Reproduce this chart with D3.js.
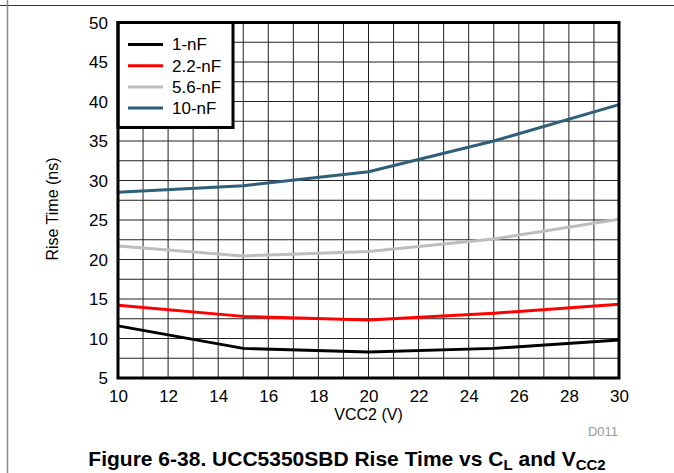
<!DOCTYPE html>
<html><head><meta charset="utf-8">
<script src="https://cdn.jsdelivr.net/npm/d3@7"></script>
<style>
html,body{margin:0;padding:0;background:#fff;}
svg{display:block;font-family:"Liberation Sans",Arial,sans-serif;}
</style></head>
<body>
<svg id="c" width="674" height="473"></svg>
<script>
const vcc2 = [10, 15, 20, 25, 30];
const seriesNames = ["1-nF", "2.2-nF", "5.6-nF", "10-nF"];
const seriesColors = ["#000000", "#ff0000", "#bdbdbd", "#2e5f7a"];
const rise1nF  = [11.6, 8.75, 8.3, 8.75, 9.8];
const rise2p2nF = [14.2, 12.8, 12.35, 13.2, 14.35];
const rise5p6nF = [21.7, 20.45, 21.0, 22.6, 25.1];
const rise10nF = [28.5, 29.35, 31.1, 35.0, 39.6];
const xTicks = [10, 12, 14, 16, 18, 20, 22, 24, 26, 28, 30];
const yTicks = [5, 10, 15, 20, 25, 30, 35, 40, 45, 50];

const seriesValues = [rise1nF, rise2p2nF, rise5p6nF, rise10nF];
const svg = d3.select("#c");
const L = 118, R = 619, T = 22.5, B = 378;
const x = d3.scaleLinear().domain([10, 30]).range([L, R]);
const y = d3.scaleLinear().domain([5, 50]).range([B, T]);

// page frame lines
svg.append("line").attr("x1", 0).attr("x2", 674).attr("y1", 5.5).attr("y2", 5.5).attr("stroke", "#333").attr("stroke-width", 1);
svg.append("line").attr("x1", 7.5).attr("x2", 7.5).attr("y1", 0).attr("y2", 473).attr("stroke", "#888").attr("stroke-width", 1.5);

// grid
const g = svg.append("g");
g.selectAll(".vg").data(d3.range(11, 30)).join("line")
  .attr("x1", d => x(d)).attr("x2", d => x(d)).attr("y1", T).attr("y2", B)
  .attr("stroke", "#222").attr("stroke-width", 1);
g.selectAll(".hg").data(d3.range(7.5, 50, 2.5)).join("line")
  .attr("x1", L).attr("x2", R).attr("y1", d => y(d)).attr("y2", d => y(d))
  .attr("stroke", "#222").attr("stroke-width", 1);

// data lines
const line = d3.line().x((d, i) => x(vcc2[i])).y(d => y(d));
seriesValues.forEach((vals, k) => {
  svg.append("path").datum(vals).attr("d", line)
    .attr("fill", "none").attr("stroke", seriesColors[k]).attr("stroke-width", 3)
    .attr("stroke-linejoin", "round");
});

// legend
const lg = svg.append("g");
lg.append("rect").attr("x", L).attr("y", T).attr("width", 115).attr("height", 105)
  .attr("fill", "#fff").attr("stroke", "#000").attr("stroke-width", 3);
seriesNames.forEach((n, k) => {
  const yy = 44.5 + k * 21.2;
  lg.append("line").attr("x1", 128).attr("x2", 163).attr("y1", yy).attr("y2", yy)
    .attr("stroke", seriesColors[k]).attr("stroke-width", 3);
  lg.append("text").attr("x", 172).attr("y", yy).attr("dy", "0.35em")
    .attr("font-size", 17).attr("fill", "#000").text(n);
});

// frame
svg.append("rect").attr("x", L).attr("y", T).attr("width", R - L).attr("height", B - T)
  .attr("fill", "none").attr("stroke", "#000").attr("stroke-width", 3);

// axes
const xAxis = d3.axisBottom(x).tickValues(xTicks).tickSize(0).tickPadding(0).tickFormat(d3.format("d"));
const xa = svg.append("g").attr("transform", `translate(0,${B})`).call(xAxis);
xa.select(".domain").remove();
xa.selectAll("text").attr("font-size", 17).attr("font-family", "Liberation Sans, Arial, sans-serif")
  .attr("fill", "#000").attr("y", 18).attr("dy", "0.35em");
const yAxis = d3.axisLeft(y).tickValues(yTicks).tickSize(0).tickPadding(0).tickFormat(d3.format("d"));
const ya = svg.append("g").attr("transform", `translate(${L},0)`).call(yAxis);
ya.select(".domain").remove();
ya.selectAll("text").attr("font-size", 17).attr("font-family", "Liberation Sans, Arial, sans-serif")
  .attr("fill", "#000").attr("x", -10).attr("dy", "0.35em");

// titles
svg.append("text").attr("x", (L + R) / 2).attr("y", 414).attr("dy", "0.35em").attr("text-anchor", "middle")
  .attr("font-size", 16).text("VCC2 (V)");
svg.append("text").attr("transform", `translate(52,209) rotate(-90)`).attr("dy", "0.35em")
  .attr("text-anchor", "middle").attr("font-size", 16).text("Rise Time (ns)");
svg.append("text").attr("x", 618).attr("y", 431).attr("dy", "0.35em").attr("text-anchor", "end")
  .attr("font-size", 13).attr("fill", "#999").text("D011");

// caption
const cap = svg.append("text").attr("x", 347).attr("y", 466).attr("text-anchor", "middle")
  .attr("font-size", 21).attr("font-weight", "bold").attr("fill", "#000");
cap.append("tspan").text("Figure 6-38. UCC5350SBD Rise Time vs C");
cap.append("tspan").attr("font-size", 15).attr("dy", 4).text("L");
cap.append("tspan").attr("dy", -4).text(" and V");
cap.append("tspan").attr("font-size", 15).attr("dy", 4).text("CC2");
</script>
</body></html>
